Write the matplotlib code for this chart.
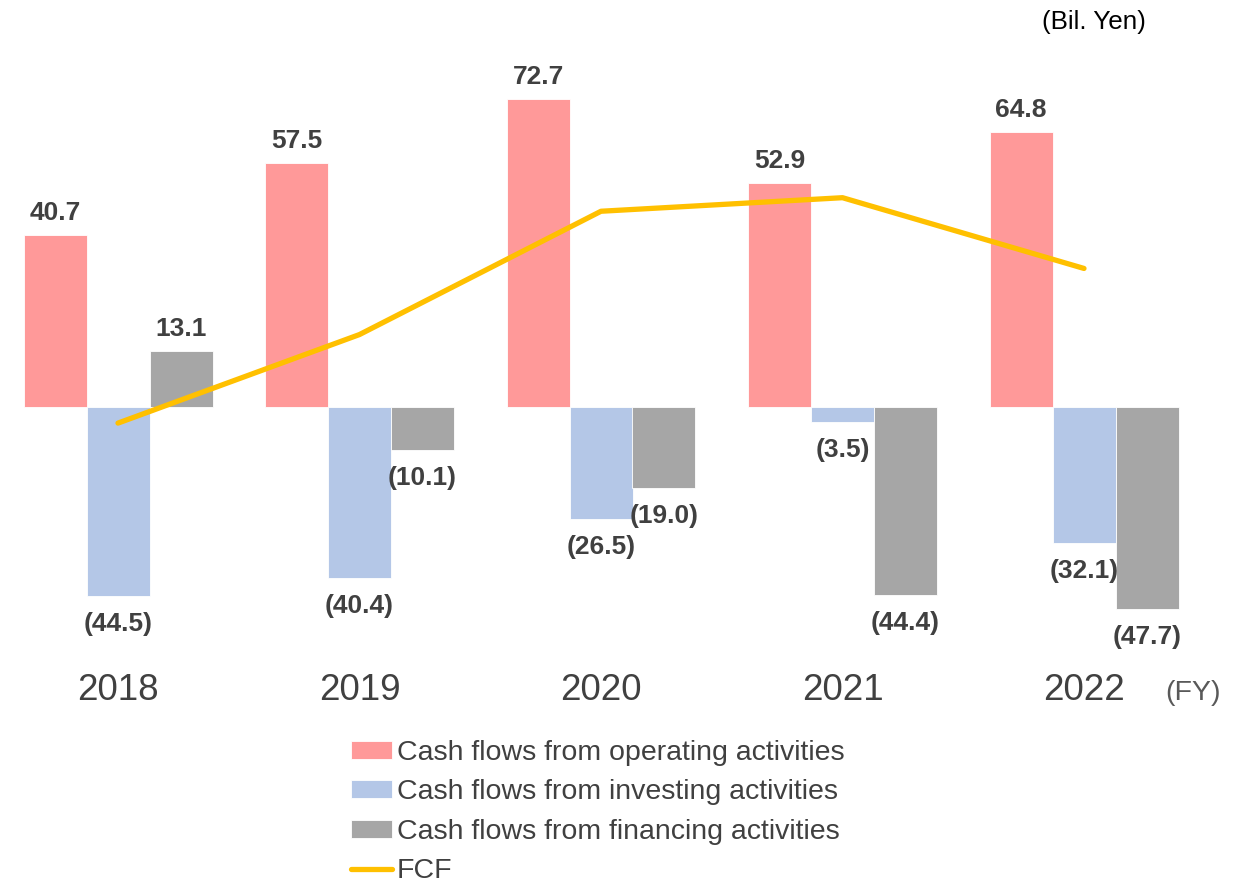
import matplotlib.pyplot as plt
import matplotlib.transforms as mtransforms
import numpy as np

plt.rcParams['font.family'] = ['Liberation Sans', 'DejaVu Sans']

years = ['2018', '2019', '2020', '2021', '2022']
operating = [40.7, 57.5, 72.7, 52.9, 64.8]
investing = [-44.5, -40.4, -26.5, -3.5, -32.1]
financing = [13.1, -10.1, -19.0, -44.4, -47.7]
fcf = [o + i for o, i in zip(operating, investing)]

labels = ['Cash flows from operating activities',
          'Cash flows from investing activities',
          'Cash flows from financing activities',
          'FCF']
colors = ['#FF9999', '#B4C7E7', '#A6A6A6']
line_color = '#FFC000'
text_color = '#404040'

W, H = 1244, 881
fig = plt.figure(figsize=(W / 100, H / 100), dpi=100)
ax = fig.add_axes([0, 0, 1, 1])

# pixel layout: group spacing ~241.5px, first group centre at 118px, zero at y=407, 4.237 px/unit
gap = 241.5
ppu = 4.237
ax.set_xlim(-118 / gap, (W - 118) / gap)
ax.set_ylim(-(H - 407) / ppu, 407 / ppu)
ax.axis('off')

x = np.arange(len(years))
w = 63 / gap
series = [operating, investing, financing]
bars = []
for k, (vals, c) in enumerate(zip(series, colors)):
    b = ax.bar(x + (k - 1) * w, vals, w, color=c, edgecolor='white', linewidth=0.6,
               label=labels[k], zorder=2)
    bars.append(b)
    for xi, v in zip(x + (k - 1) * w, vals):
        if v >= 0:
            ax.annotate(f'{v:.1f}', (xi, v), xytext=(0, 10), textcoords='offset pixels',
                        ha='center', va='bottom', fontsize=19, fontweight='bold',
                        color=text_color)
        else:
            ax.annotate(f'({-v:.1f})', (xi, v), xytext=(0, -16), textcoords='offset pixels',
                        ha='center', va='top', fontsize=19, fontweight='bold',
                        color=text_color)

line, = ax.plot(x, fcf, color=line_color, linewidth=3.8, solid_capstyle='round',
                label=labels[3], zorder=3)

trans = mtransforms.blended_transform_factory(ax.transData, ax.transAxes)
for xi, yr in zip(x, years):
    ax.text(xi, 1 - 690 / H, yr, transform=trans, ha='center', va='center',
            fontsize=26.5, color=text_color)
fig.text(1193 / W, 1 - 693 / H, '(FY)', ha='center', va='center', fontsize=20.5,
         color='#595959')
fig.text(1094 / W, 1 - 22 / H, '(Bil. Yen)', ha='center', va='center', fontsize=18.7,
         color='black')

leg = ax.legend(handles=bars + [line], loc='upper left',
                bbox_to_anchor=(351 / W, 1 - 740 / H), bbox_transform=fig.transFigure,
                frameon=False, fontsize=20.5, handlelength=1.45, handleheight=0.6,
                handletextpad=0.15, labelspacing=0.47, borderpad=0, borderaxespad=0)
for t in leg.get_texts():
    t.set_color(text_color)

fig.savefig('out.png', dpi=100)
